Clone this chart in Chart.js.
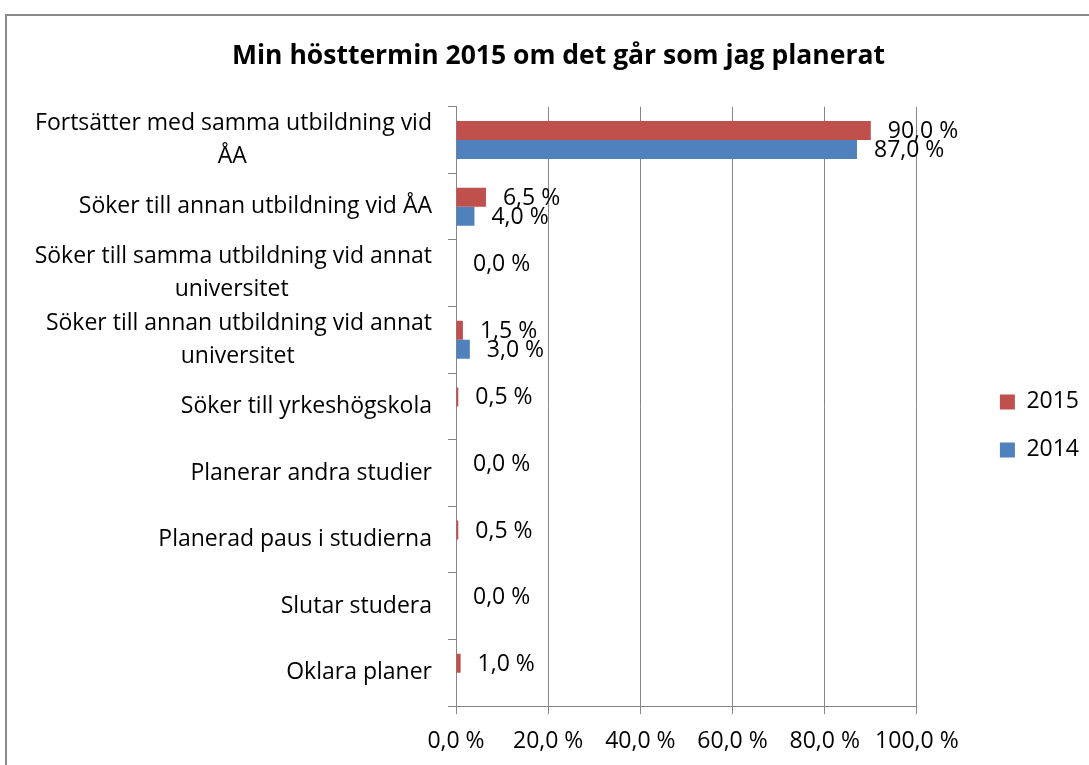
<!DOCTYPE html>
<html><head><meta charset="utf-8">
<script src="https://cdn.jsdelivr.net/npm/chart.js@4.4.0/dist/chart.umd.min.js"></script>
<style>
html,body{margin:0;padding:0;background:#fff;overflow:hidden;}
#wrap{position:relative;width:1089px;height:765px;overflow:hidden;}
#frame{position:absolute;left:5px;top:14px;width:1200px;height:900px;border:2px solid #8a8a8a;box-sizing:border-box;pointer-events:none;}
canvas{position:absolute;left:0;top:0;}
</style></head><body>
<div id="wrap"><canvas id="c" width="1089" height="765"></canvas><div id="frame"></div></div>
<script>
const chartTitle = 'Min hösttermin 2015 om det går som jag planerat';
const categories = [
  ['Fortsätter med samma utbildning vid', 'ÅA'],
  'Söker till annan utbildning vid ÅA',
  ['Söker till samma utbildning vid annat', 'universitet'],
  ['Söker till annan utbildning vid annat', 'universitet'],
  'Söker till yrkeshögskola',
  'Planerar andra studier',
  'Planerad paus i studierna',
  'Slutar studera',
  'Oklara planer'
];
const seriesNames = ['2015', '2014'];
const values2015 = [90.0, 6.5, 0.0, 1.5, 0.5, 0.0, 0.5, 0.0, 1.0];
const values2014 = [87.0, 4.0, 0.0, 3.0, 0.0, 0.0, 0.0, 0.0, 0.0];
const xTicks = [0, 20, 40, 60, 80, 100];

const FONT = '"Open Sans"';
const LABEL_SIZE = 23;
const fmt = v => v.toFixed(1).replace('.', ',') + ' %';

// centre wrapped lines under the first line (right-aligned block)
const mctx = document.createElement('canvas').getContext('2d');
mctx.font = LABEL_SIZE + 'px ' + FONT;
function centreLines(lbl) {
  if (!Array.isArray(lbl)) return lbl;
  const w0 = mctx.measureText(lbl[0]).width;
  const sp = mctx.measureText('\u00A0').width;
  return lbl.map((line, i) => {
    if (i === 0) return line;
    const w = mctx.measureText(line).width;
    const n = Math.max(0, Math.round((w0 - w) / 2 / sp));
    return line + '\u00A0'.repeat(n);
  });
}

const dataLabels = {
  id: 'dataLabels',
  afterDatasetsDraw(chart) {
    const ctx = chart.ctx;
    ctx.save();
    ctx.font = LABEL_SIZE + 'px ' + FONT;
    ctx.fillStyle = '#000';
    ctx.textAlign = 'left';
    ctx.textBaseline = 'middle';
    chart.data.datasets.forEach((ds, di) => {
      const meta = chart.getDatasetMeta(di);
      meta.data.forEach((el, i) => {
        const v = ds.data[i];
        if (di === 1 && v === 0) return;
        ctx.fillText(fmt(v), el.x + 17, el.y + 1);
      });
    });
    ctx.restore();
  }
};

new Chart(document.getElementById('c'), {
  type: 'bar',
  data: {
    labels: categories,
    datasets: [
      { label: seriesNames[0], data: values2015, backgroundColor: '#C0504D', borderWidth: 0,
        categoryPercentage: 0.57, barPercentage: 1.0 },
      { label: seriesNames[1], data: values2014, backgroundColor: '#4F81BD', borderWidth: 0,
        categoryPercentage: 0.57, barPercentage: 1.0 }
    ]
  },
  options: {
    indexAxis: 'y',
    responsive: false,
    animation: false,
    devicePixelRatio: 1,
    layout: { padding: { left: 28, right: 0, top: 0, bottom: 0 } },
    scales: {
      x: {
        type: 'linear', position: 'bottom', min: 0, max: 100,
        afterBuildTicks: s => { s.ticks = xTicks.map(v => ({ value: v })); },
        afterFit: s => { s.height = 59; },
        grid: { color: '#868686', lineWidth: 1, tickLength: 8, drawTicks: true },
        border: { color: '#868686', width: 1 },
        ticks: { color: '#000', padding: 14, font: { family: FONT, size: LABEL_SIZE }, callback: v => fmt(v), maxRotation: 0 }
      },
      y: {
        type: 'category', position: 'left',
        afterFit: s => { s.width = 428; },
        grid: { offset: true, drawOnChartArea: false, drawTicks: true, tickLength: 8, color: '#868686' },
        border: { color: '#868686', width: 1 },
        ticks: { color: '#000', padding: 16, autoSkip: false, font: { family: FONT, size: LABEL_SIZE, lineHeight: 1.45 },
          callback: function (v, i) { return centreLines(categories[i]); } }
      },
      gap: {
        type: 'linear', position: 'right', display: true,
        afterFit: s => { s.width = 58; },
        grid: { display: false }, border: { display: false }, ticks: { display: false }
      }
    },
    plugins: {
      title: {
        display: true, text: chartTitle, color: '#000',
        font: { family: FONT, size: 26.5, weight: 'bold', lineHeight: 1.2 },
        padding: { top: 41, bottom: 34 }
      },
      legend: {
        position: 'right', align: 'center', fullSize: false,
        title: { display: true, text: '', font: { size: 10, lineHeight: 1.2 }, padding: 13.5 },
        labels: { color: '#000', font: { family: FONT, size: LABEL_SIZE }, boxWidth: 15, boxHeight: 15, padding: 25 }
      },
      tooltip: { enabled: false }
    }
  },
  plugins: [dataLabels]
});
</script>
</body></html>
